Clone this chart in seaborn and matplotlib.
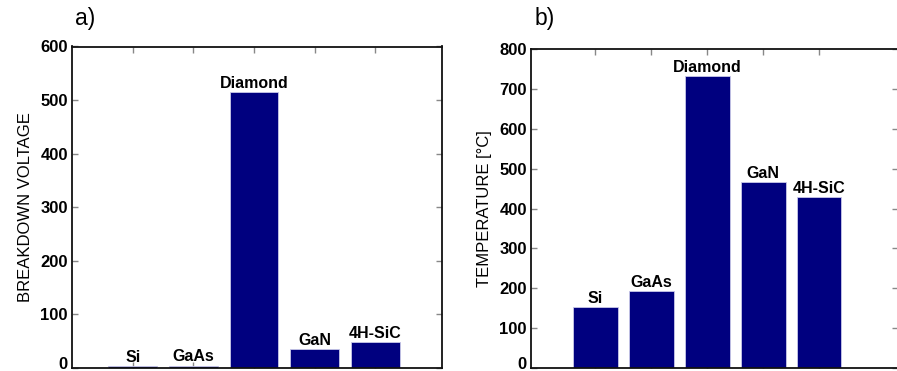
import matplotlib
matplotlib.use("Agg")
import matplotlib.pyplot as plt
import matplotlib.transforms as mtransforms
import seaborn as sns
import pandas as pd

sns.set_theme(style="white")
plt.rcParams['font.family'] = ['Liberation Sans', 'DejaVu Sans']
plt.rcParams['text.color'] = 'black'
plt.rcParams['axes.labelcolor'] = 'black'
plt.rcParams['xtick.color'] = 'black'
plt.rcParams['ytick.color'] = 'black'

materials = ["Si", "GaAs", "Diamond", "GaN", "4H-SiC"]
breakdown_voltage = [3, 4, 515, 35, 48]
temperature = [152, 193, 732, 466, 428]
volt_ticks = [0, 100, 200, 300, 400, 500, 600]
temp_ticks = [0, 100, 200, 300, 400, 500, 600, 700, 800]

BAR = "#00007f"
W, H = 897, 371
fig = plt.figure(figsize=(W / 100, H / 100), dpi=100)

def px_axes(x0, x1, y_top, y_bot):
    return fig.add_axes([x0 / W, (H - y_bot) / H, (x1 - x0) / W, (y_bot - y_top) / H])

ax1 = px_axes(72, 442, 46.5, 368)
ax2 = px_axes(531, 898, 49.3, 368)

def draw(ax, values, ticks, ylabel, xlim, panel, label_x):
    df = pd.DataFrame({"material": materials, "value": values})
    sns.barplot(data=df, x="material", y="value", order=materials, color=BAR,
                width=0.8, saturation=1, edgecolor="#c8c8e8", linewidth=0.6, ax=ax)
    for i, (m, v) in enumerate(zip(materials, values)):
        ax.annotate(m, (i, v), xytext=(0, 1), textcoords="offset points",
                    ha="center", va="bottom", fontsize=11.5, fontweight="bold",
                    color="black")
    ax.set_xlim(*xlim)
    ax.set_ylim(ticks[0], ticks[-1])
    ax.set_yticks(ticks)
    ax.set_yticklabels([str(t) for t in ticks], fontsize=12, fontweight="bold")
    ax.set_xticks(range(len(materials)))
    ax.set_xticklabels([])
    ax.set_xlabel("")
    ax.set_ylabel(ylabel, fontsize=12, labelpad=5, color="black")
    ax.tick_params(axis="both", which="both", direction="in", length=4, width=1,
                   color="#888888", top=True, right=True, bottom=True, left=True,
                   pad=3, labelcolor="black")
    for lbl in ax.get_yticklabels():
        if lbl.get_text() == "0":
            lbl.set_transform(lbl.get_transform() +
                              mtransforms.ScaledTranslation(0, 0.05, fig.dpi_scale_trans))
    for s in ax.spines.values():
        s.set_visible(True)
        s.set_color("#111111")
        s.set_linewidth(1.3)
    fig.text(label_x / W, (H - 19) / H, panel, fontsize=16.5, ha="left", va="center",
             color="black")

draw(ax1, breakdown_voltage, volt_ticks, "BREAKDOWN VOLTAGE", (-1.0, 5.1), "a)", 75)
draw(ax2, temperature, temp_ticks, "TEMPERATURE [°C]", (-1.15, 5.41), "b)", 535)

fig.savefig("out.png", dpi=100)
